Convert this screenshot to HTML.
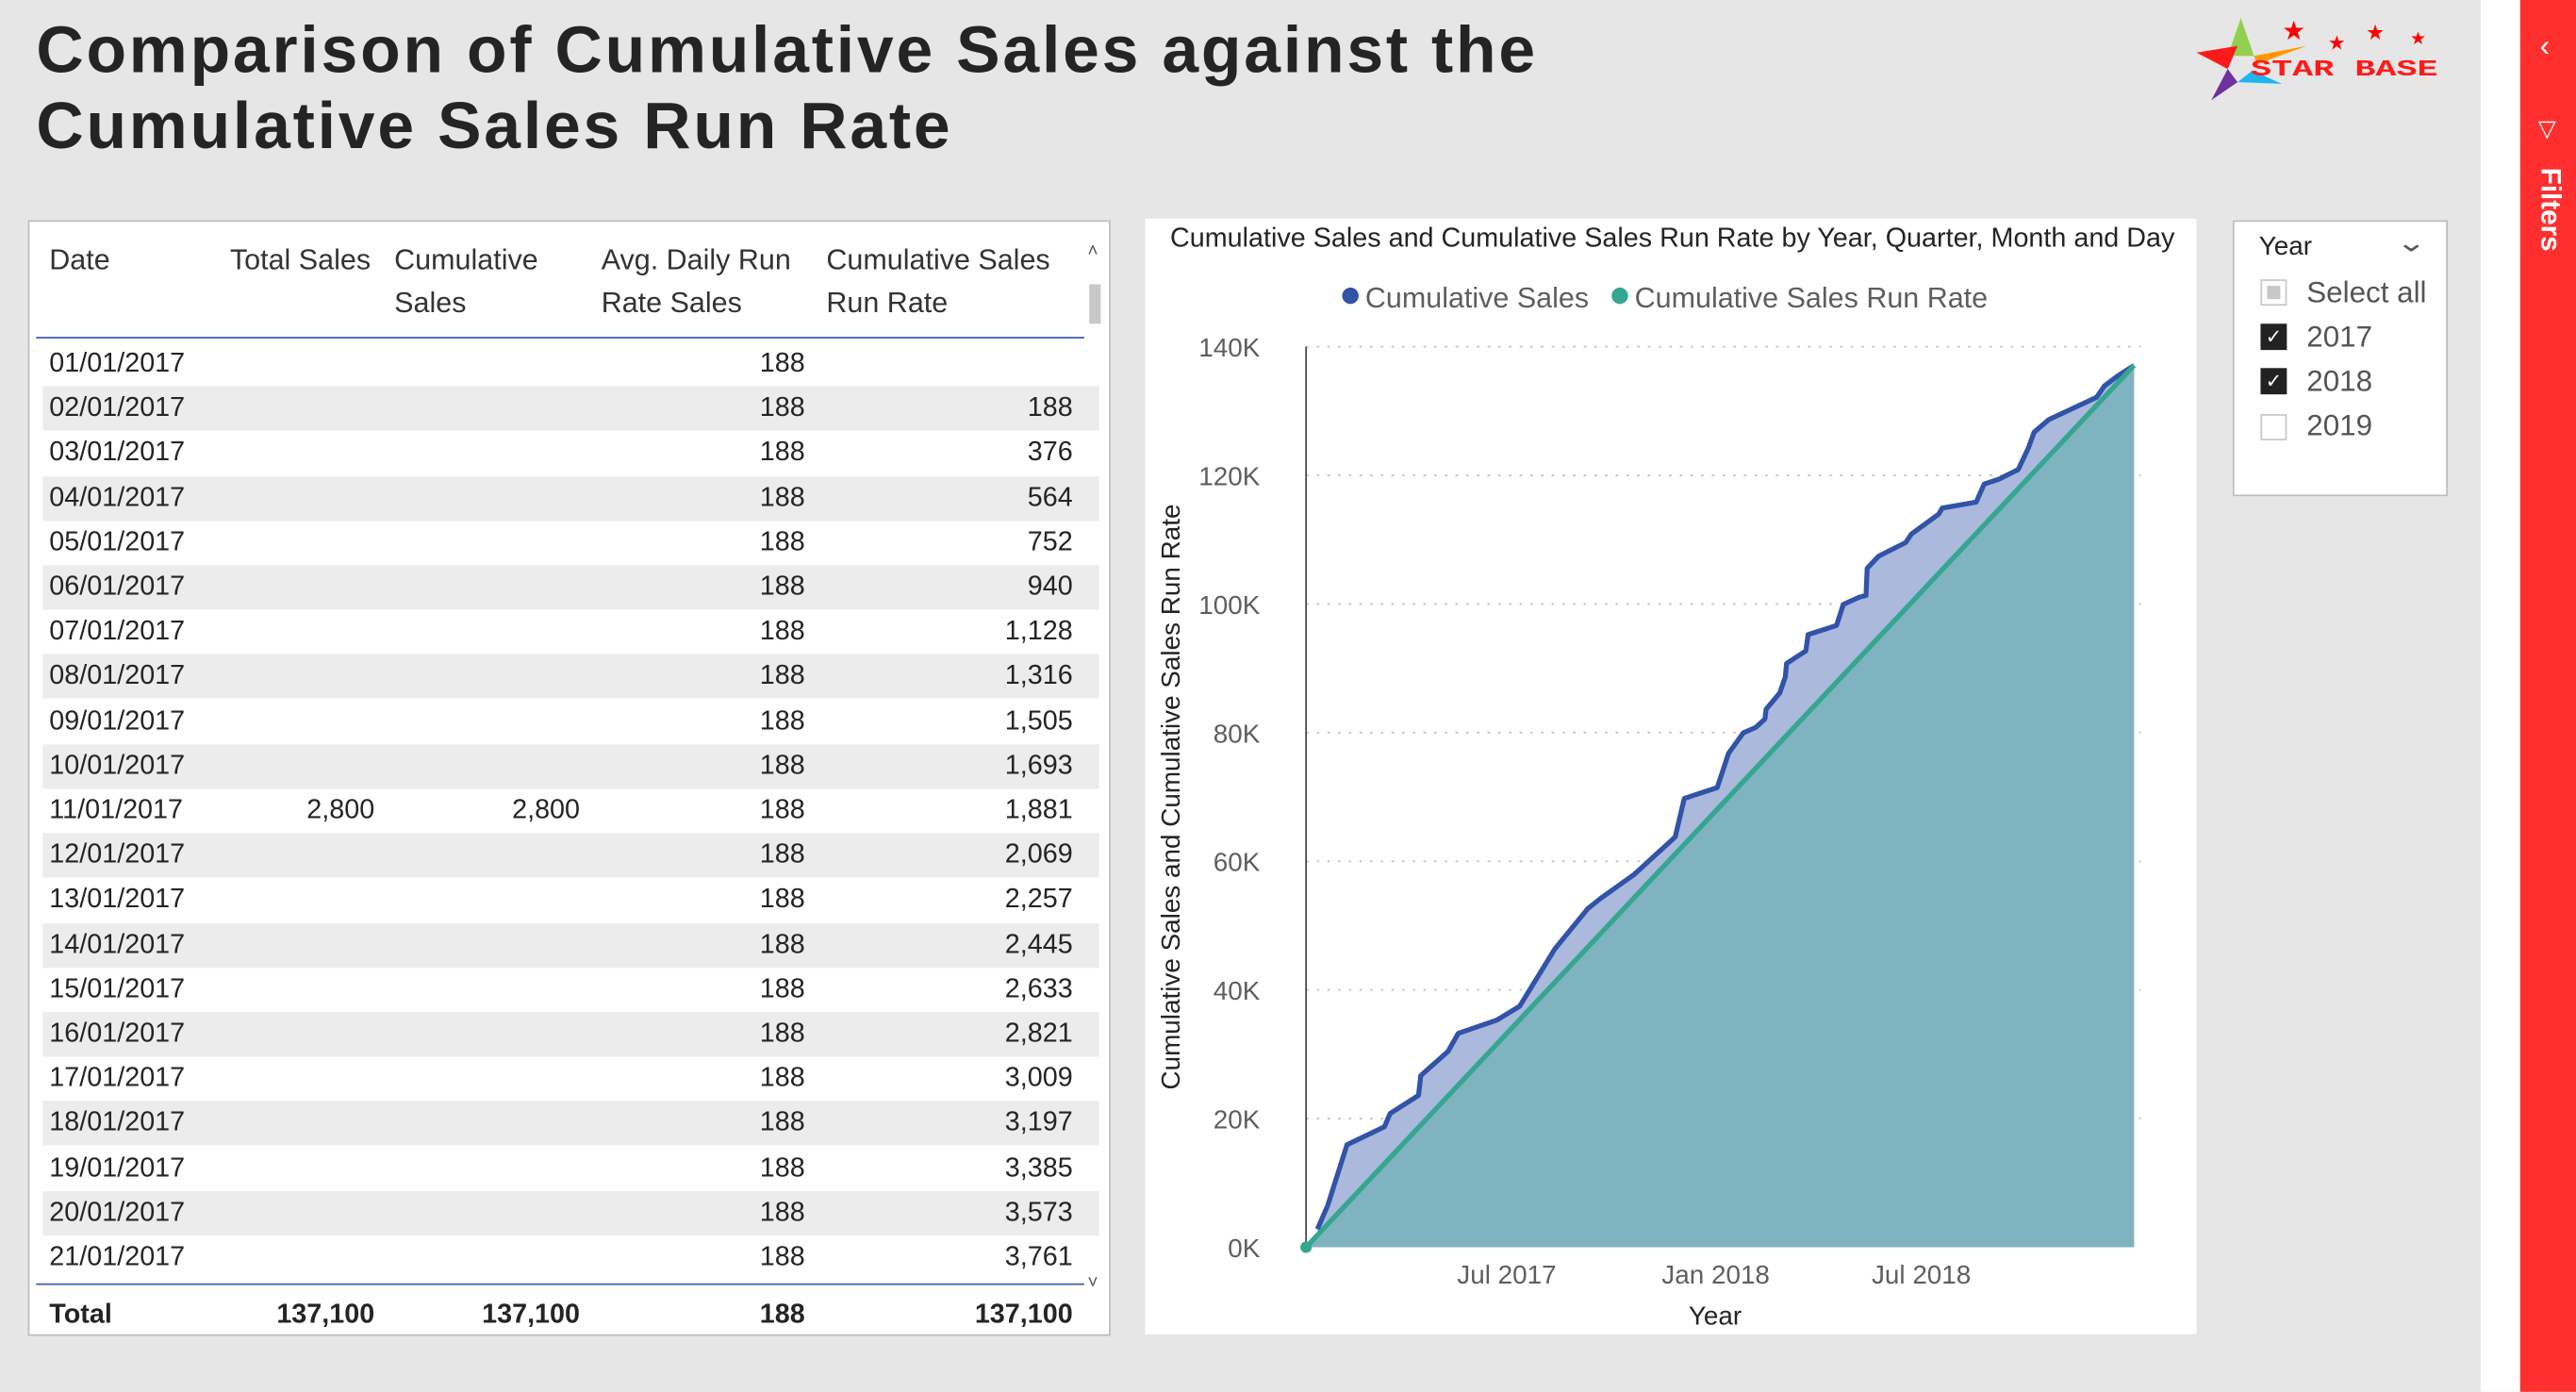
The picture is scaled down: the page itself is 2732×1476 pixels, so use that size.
<!DOCTYPE html>
<html><head><meta charset="utf-8">
<style>
html,body{margin:0;padding:0;width:2732px;height:1475px;overflow:hidden;background:#e6e6e6;}
#wrap{position:absolute;left:0;top:0;width:1568px;height:847px;transform:scale(1.74235);transform-origin:0 0;font-family:"Liberation Sans",sans-serif;background:#e6e6e6;}
.abs{position:absolute;}
#title{left:22px;top:8px;font-size:40px;font-weight:bold;color:#252423;line-height:46px;letter-spacing:1.6px;white-space:nowrap;}
#table{left:17px;top:134px;width:659px;height:679px;background:#fff;border:1px solid #bdbdbd;box-sizing:border-box;}
.hdr{position:absolute;top:10px;font-size:17.5px;color:#333;line-height:26px;}
.row{position:absolute;left:8px;width:643px;height:27px;font-size:16.5px;color:#252423;}
.row span{position:absolute;top:4px;}
.r{text-align:right;}
#chartpanel{left:697px;top:133px;width:640px;height:679px;background:#fff;}
#slicer{left:1359px;top:134px;width:131px;height:168px;background:#fff;border:1px solid #bdbdbd;box-sizing:border-box;}
.cb{position:absolute;left:16px;width:16px;height:16px;box-sizing:border-box;}
.st{position:absolute;left:44px;font-size:18px;color:#555;}
</style></head><body>
<div id="wrap">
<div id="title" class="abs">Comparison of Cumulative Sales against the<br>Cumulative Sales Run Rate</div>

<svg class="abs" style="left:1334px;top:6px" width="155" height="58">
<polygon points="30,5 38,28 22,28" fill="#8fd14f"/>
<polygon points="3,26 28,22 22,36" fill="#ff1a1a"/>
<polygon points="38,28 70,22 40,33" fill="#ff9900"/>
<polygon points="22,36 28,44 12,55" fill="#7030a0"/>
<polygon points="28,44 37,37 55,45" fill="#1fb4ef"/>
<text x="36" y="40" font-family="Liberation Mono,monospace" font-weight="bold" font-size="14" fill="#ff1a1a" textLength="114" lengthAdjust="spacingAndGlyphs">STAR BASE</text>
<text x="55" y="18" font-size="16" fill="#ff0000">★</text><text x="83" y="24" font-size="12" fill="#ff0000">★</text><text x="106" y="18" font-size="13" fill="#ff0000">★</text><text x="133" y="21" font-size="11" fill="#ff0000">★</text>
</svg>

<div class="abs" style="left:1510px;top:0;width:24px;height:847px;background:#fff"></div>
<div class="abs" style="left:1534px;top:0;width:34px;height:847px;background:#ff2f2f">
 <div style="position:absolute;left:12px;top:18px;color:#fff;font-size:18px">‹</div>
 <div style="position:absolute;left:11px;top:70px;color:#fff;font-size:14px">▽</div>
 <div style="position:absolute;left:8px;top:102px;color:#fff;font-size:17px;font-weight:bold;writing-mode:vertical-rl">Filters</div>
</div>

<div id="table" class="abs">
 <div class="hdr" style="left:12px">Date</div>
 <div class="hdr" style="left:122px">Total Sales</div>
 <div class="hdr" style="left:222px">Cumulative<br>Sales</div>
 <div class="hdr" style="left:348px">Avg. Daily Run<br>Rate Sales</div>
 <div class="hdr" style="left:485px">Cumulative Sales<br>Run Rate</div>
 <div class="abs" style="left:4px;top:70px;width:638px;height:1px;background:#3a5bae"></div>
 <div class="abs" style="left:644px;top:12px;font-size:11px;color:#555">˄</div>
 <div class="abs" style="left:645px;top:38px;width:7px;height:24px;background:#c8c8c8"></div>
 <div class="abs" style="left:644px;top:640px;font-size:11px;color:#555">˅</div>
 <div id="rows"></div>
 <div class="abs" style="left:4px;top:646px;width:638px;height:1px;background:#3a5bae"></div>
 <div class="row" style="top:652px;font-weight:bold">
  <span style="left:4px">Total</span>
  <span class="r" style="right:441px">137,100</span>
  <span class="r" style="right:316px">137,100</span>
  <span class="r" style="right:179px">188</span>
  <span class="r" style="right:16px">137,100</span>
 </div>
</div>

<div id="chartpanel" class="abs">
<svg id="chart" width="640" height="679"></svg>
</div>

<div id="slicer" class="abs">
 <div class="abs" style="left:15px;top:7px;font-size:16px;color:#252423">Year</div>
 <div class="abs" style="left:101px;top:3px;font-size:16px;color:#555;transform:scaleX(1.4)">⌄</div>
 <div class="cb" style="top:35px;border:1px solid #c8c8c8"><div style="margin:3px;width:8px;height:8px;background:#c8c8c8"></div></div>
 <div class="st" style="top:33px">Select all</div>
 <div class="cb" style="top:62px;background:#222;color:#fff;font-size:12px;line-height:16px;text-align:center">✓</div>
 <div class="st" style="top:60px">2017</div>
 <div class="cb" style="top:89px;background:#222;color:#fff;font-size:12px;line-height:16px;text-align:center">✓</div>
 <div class="st" style="top:87px">2018</div>
 <div class="cb" style="top:117px;border:1px solid #c8c8c8"></div>
 <div class="st" style="top:114px">2019</div>
</div>
</div>

<script>
// table data
var tableDays = [1,2,3,4,5,6,7,8,9,10,11,12,13,14,15,16,17,18,19,20,21];
var tableTotalSales = {11:"2,800"};
var tableCumSales = {11:"2,800"};
var avgDaily = "188";
var runRateVals = ["","188","376","564","752","940","1,128","1,316","1,505","1,693","1,881","2,069","2,257","2,445","2,633","2,821","3,009","3,197","3,385","3,573","3,761"];

// chart data
var cumDays = [10,19,36,69,74,99,101,125,134,168,188,219,248,260,289,325,333,362,372,385,396,404,405,417,422,423,440,442,467,473,487,493,494,504,528,533,557,560,590,597,610,627,636,641,654,696,703,715,729];
var cumValues = [2800,6462,15920,18730,20790,23600,26690,30440,33250,35310,37460,46360,52630,54320,57970,63780,69770,71460,76790,79980,80820,82130,83630,86160,88690,90750,92710,95240,96650,99930,101050,101330,105540,107420,109570,110880,113970,114910,115840,118650,119400,120900,124270,126710,128680,132140,133920,135510,137100];
var runRateDays = [0,729];
var runRateValues = [0,137100];
var yTicks = [0,20000,40000,60000,80000,100000,120000,140000];
var yTickLabels = ["0K","20K","40K","60K","80K","100K","120K","140K"];
var xTickDays = [181,365,546];
var xTickLabels = ["Jul 2017","Jan 2018","Jul 2018"];

(function(){
 var rows=document.getElementById('rows');
 for(var i=0;i<tableDays.length;i++){
  var d=tableDays[i];
  var r=document.createElement('div');
  r.className='row';
  
  
  r.style.top=(73+i*27.2)+'px';
  if(i%2==1) r.style.background='#ececec';
  var ds=(d<10?'0':'')+d+'/01/2017';
  r.innerHTML='<span style="left:4px">'+ds+'</span>'+
   '<span class="r" style="right:441px">'+(tableTotalSales[d]||'')+'</span>'+
   '<span class="r" style="right:316px">'+(tableCumSales[d]||'')+'</span>'+
   '<span class="r" style="right:179px">'+avgDaily+'</span>'+
   '<span class="r" style="right:16px">'+runRateVals[i]+'</span>';
  rows.appendChild(r);
 }
})();

(function(){
 var NS='http://www.w3.org/2000/svg';
 var svg=document.getElementById('chart');
 var X0=98,X1=602,Y0=626,Y1=78;
 function x(d){return X0+d/729*(X1-X0);}
 function y(v){return Y0-v/140000*(Y0-Y1);}
 function el(t,a,txt){var e=document.createElementNS(NS,t);for(var k in a)e.setAttribute(k,a[k]);if(txt!=null)e.textContent=txt;svg.appendChild(e);return e;}
 var t=el('text',{x:321,y:17,'text-anchor':'middle','font-size':'16.5',fill:'#252423','font-family':'Liberation Sans,sans-serif'},'Cumulative Sales and Cumulative Sales Run Rate by Year, Quarter, Month and Day');
 
 
 var c1=el('circle',{cx:125,cy:47,r:5,fill:'#3153a8'});
 
 
 var l1=el('text',{x:134,y:54,'font-size':'17.5',fill:'#605e5c'},'Cumulative Sales');
 
 
 var c2=el('circle',{cx:289,cy:47,r:5,fill:'#35a68f'});
 
 
 var l2=el('text',{x:298,y:54,'font-size':'17.5',fill:'#605e5c'},'Cumulative Sales Run Rate');
 
 
 for(var i=0;i<yTicks.length;i++){
  var yy=y(yTicks[i]);
  if(i>0){var g=el('line',{x1:X0,x2:X1+4,y1:yy,y2:yy,stroke:'#c8c8c8','stroke-dasharray':'1.5,5','stroke-width':1.2});
  
  }
  var tl=el('text',{x:70,y:yy+6,'text-anchor':'end','font-size':'16',fill:'#605e5c'},yTickLabels[i]);
  
  
 }
 for(var j=0;j<xTickDays.length;j++){
  var xl=el('text',{x:x(xTickDays[j])-3,y:648,'text-anchor':'middle','font-size':'16',fill:'#605e5c'},xTickLabels[j]);
  
  
 }
 var xt=el('text',{x:347,y:673,'text-anchor':'middle','font-size':'16',fill:'#252423'},'Year');
 
 
 var yt=el('text',{x:0,y:0,'text-anchor':'middle','font-size':'16',fill:'#252423',transform:'translate(21,352) rotate(-90)'},'Cumulative Sales and Cumulative Sales Run Rate');
 
 
 var pts=[];for(var k=0;k<cumDays.length;k++)pts.push(x(cumDays[k]).toFixed(2)+','+y(cumValues[k]).toFixed(2));
 var area1=el('polygon',{points:x(cumDays[0])+','+Y0+' '+pts.join(' ')+' '+x(cumDays[cumDays.length-1])+','+Y0,fill:'#aab9dc'});
 
 
 var rp=[];for(var m=0;m<runRateDays.length;m++)rp.push(x(runRateDays[m])+','+y(runRateValues[m]));
 var area2=el('polygon',{points:x(runRateDays[0])+','+Y0+' '+rp.join(' ')+' '+x(runRateDays[runRateDays.length-1])+','+Y0,fill:'#7fb3bf'});
 
 
 var ax=el('line',{x1:X0,x2:X0,y1:Y1,y2:Y0+3,stroke:'#444','stroke-width':1});
 
 
 var line1=el('polyline',{points:pts.join(' '),fill:'none',stroke:'#3153a8','stroke-width':3,'stroke-linejoin':'round'});
 
 
 var line2=el('polyline',{points:rp.join(' '),fill:'none',stroke:'#35a68f','stroke-width':3});
 
 
 var dot=el('circle',{cx:x(0),cy:y(0),r:3.5,fill:'#35a68f'});
 
 
})();
</script>
</body></html>
